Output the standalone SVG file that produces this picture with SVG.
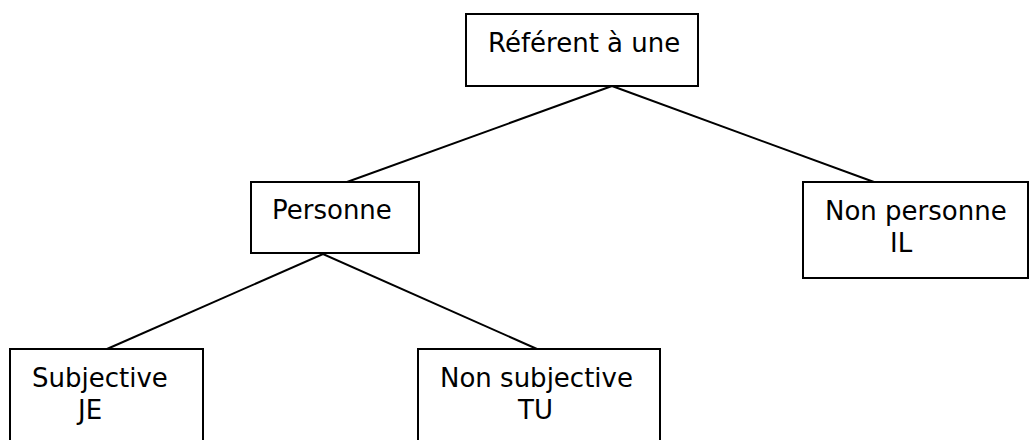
<svg xmlns="http://www.w3.org/2000/svg" width="1029" height="440" viewBox="0 0 1029 440">
<style>
.box{fill:#fff;stroke:#000;stroke-width:2}
.lbl{font-family:"DejaVu Sans",Verdana,sans-serif;font-size:26px;fill:#000}
.edge{stroke:#000;stroke-width:2;fill:none}
</style>
<rect width="1029" height="440" fill="#fff"/>
<g id="connectors">
<line class="edge" x1="612" y1="86" x2="347" y2="182"/>
<line class="edge" x1="612" y1="86" x2="874" y2="182"/>
<line class="edge" x1="323" y1="254" x2="107" y2="349"/>
<line class="edge" x1="323" y1="254" x2="537" y2="349"/>
</g>
<g id="node-referent">
<rect class="box" x="466" y="14" width="232" height="72"/>
<text class="lbl" x="488" y="52">Référent à une</text>
</g>
<g id="node-personne">
<rect class="box" x="251" y="182" width="168" height="71"/>
<text class="lbl" x="272" y="219">Personne</text>
</g>
<g id="node-nonpersonne">
<rect class="box" x="803" y="182" width="225" height="96"/>
<text class="lbl" x="825" y="220">Non personne</text>
<text class="lbl" x="890" y="252">IL</text>
</g>
<g id="node-subjective">
<rect class="box" x="10" y="349" width="193" height="100"/>
<text class="lbl" x="32" y="387">Subjective</text>
<text class="lbl" x="78" y="419">JE</text>
</g>
<g id="node-nonsubjective">
<rect class="box" x="418" y="349" width="242" height="100"/>
<text class="lbl" x="440" y="387">Non subjective</text>
<text class="lbl" x="518" y="419">TU</text>
</g>
</svg>
